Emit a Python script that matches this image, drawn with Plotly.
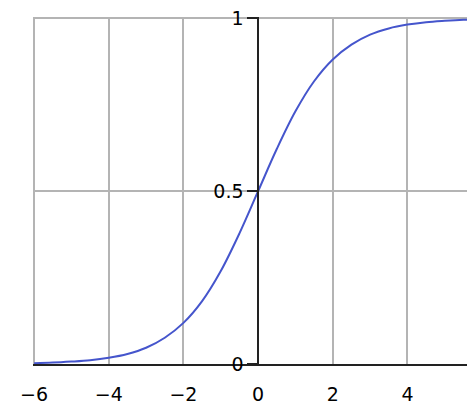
import plotly.graph_objects as go

# ── Data ──────────────────────────────────────────────────────────────────────
x_vals = [-6, -5.5, -5, -4.5, -4, -3.5, -3, -2.5, -2, -1.5, -1, -0.5,
          0, 0.5, 1, 1.5, 2, 2.5, 3, 3.5, 4, 4.5, 5, 5.5, 6]
y_vals = [0.0025, 0.004, 0.007, 0.011, 0.018, 0.029, 0.047, 0.076, 0.119, 0.182, 0.269, 0.378,
          0.5, 0.622, 0.731, 0.818, 0.881, 0.924, 0.953, 0.971, 0.982, 0.989, 0.993, 0.996, 0.9975]
x_ticks = [-6, -4, -2, 0, 2, 4]
y_ticks = [0, 0.5, 1]
y_tick_text = ["0", "0.5", "1"]

# ── Figure ────────────────────────────────────────────────────────────────────
fig = go.Figure()
fig.add_trace(go.Scatter(x=x_vals, y=y_vals, mode="lines", line_shape="spline",
                         line=dict(color="#4555cc", width=2), hoverinfo="skip"))

# ranges padded a hair so the edge gridlines (x=-6, y=1) still get drawn
x_lo, x_hi = -6.03, 5.81
y_lo, y_hi = 0, 1.004
grid = "#b4b4b4"
# page body adds an 8px offset, so the figure is 8px smaller than the window
fig.update_layout(
    width=467, height=394,
    margin=dict(l=25, r=0, t=9, b=38),
    paper_bgcolor="white", plot_bgcolor="white",
    showlegend=False,
    font=dict(family="DejaVu Sans", size=19, color="black"),
    xaxis=dict(range=[x_lo, x_hi], tickvals=x_ticks, showgrid=True, automargin=False,
               gridcolor=grid, gridwidth=1.5, ticklabeloverflow="allow",
               zeroline=False, showline=True, linecolor="#222", linewidth=1.5,
               ticks="", ticklabelstandoff=12, tickfont=dict(size=19)),
    yaxis=dict(range=[y_lo, y_hi], tickvals=y_ticks, ticktext=y_tick_text, automargin=False,
               anchor="free", position=(0 - x_lo) / (x_hi - x_lo),
               ticklabeloverflow="allow",
               showgrid=True, gridcolor=grid, gridwidth=1.5, zeroline=False,
               showline=True, linecolor="#222", linewidth=1.5,
               ticks="outside", ticklen=10, tickwidth=1.5, tickcolor="#222",
               tickfont=dict(size=19)),
)

fig.write_html("out.html")
